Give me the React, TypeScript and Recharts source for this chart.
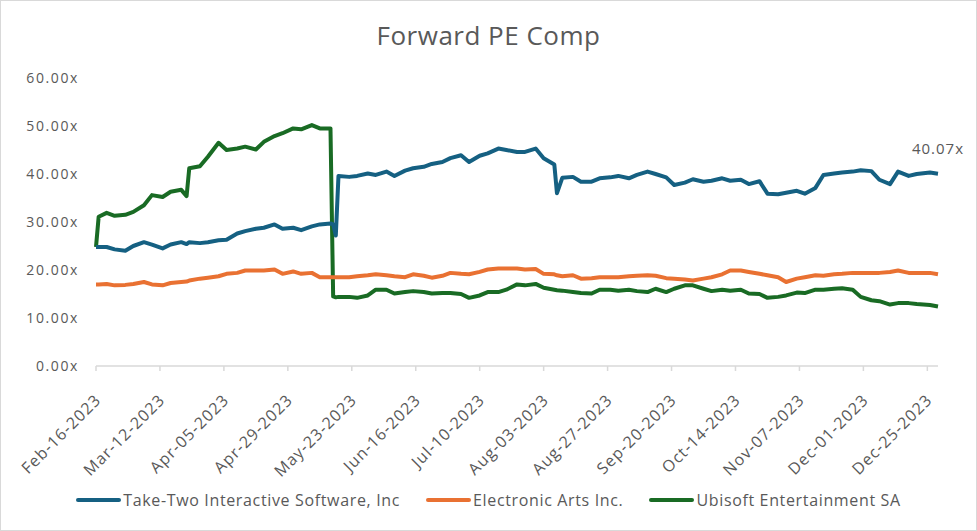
import { Line, LineChart, XAxis, YAxis, LabelList } from "recharts";

const dates = [
  "2023-02-16", "2023-02-17", "2023-02-20", "2023-02-23", "2023-02-27", "2023-03-02", "2023-03-06", "2023-03-09",
  "2023-03-13", "2023-03-16", "2023-03-20", "2023-03-22", "2023-03-23", "2023-03-27", "2023-03-30", "2023-04-03",
  "2023-04-06", "2023-04-10", "2023-04-13", "2023-04-17", "2023-04-20", "2023-04-24", "2023-04-27", "2023-05-01",
  "2023-05-04", "2023-05-08", "2023-05-11", "2023-05-15", "2023-05-16", "2023-05-17", "2023-05-18", "2023-05-22",
  "2023-05-25", "2023-05-29", "2023-06-01", "2023-06-05", "2023-06-08", "2023-06-12", "2023-06-15", "2023-06-19",
  "2023-06-22", "2023-06-26", "2023-06-29", "2023-07-03", "2023-07-06", "2023-07-10", "2023-07-13", "2023-07-17",
  "2023-07-20", "2023-07-24", "2023-07-27", "2023-07-31", "2023-08-03", "2023-08-07", "2023-08-08", "2023-08-10",
  "2023-08-14", "2023-08-17", "2023-08-21", "2023-08-24", "2023-08-28", "2023-08-31", "2023-09-04", "2023-09-07",
  "2023-09-11", "2023-09-14", "2023-09-18", "2023-09-21", "2023-09-25", "2023-09-28", "2023-10-02", "2023-10-05",
  "2023-10-09", "2023-10-12", "2023-10-16", "2023-10-19", "2023-10-23", "2023-10-26", "2023-10-30", "2023-11-02",
  "2023-11-06", "2023-11-09", "2023-11-13", "2023-11-16", "2023-11-20", "2023-11-23", "2023-11-27", "2023-11-30",
  "2023-12-04", "2023-12-07", "2023-12-11", "2023-12-14", "2023-12-18", "2023-12-21", "2023-12-26", "2023-12-29",
];

const takeTwo = [
  24.8, 24.8, 24.8, 24.3, 24.0, 25.0, 25.8, 25.3,
  24.5, 25.3, 25.8, 25.4, 25.8, 25.6, 25.8, 26.2,
  26.3, 27.6, 28.1, 28.6, 28.8, 29.5, 28.6, 28.8,
  28.3, 29.1, 29.5, 29.7, 29.5, 27.2, 39.6, 39.4,
  39.6, 40.1, 39.8, 40.5, 39.6, 40.7, 41.2, 41.5,
  42.1, 42.5, 43.3, 43.9, 42.5, 43.8, 44.3, 45.3,
  45.0, 44.6, 44.6, 45.3, 43.3, 42.0, 36.0, 39.2,
  39.4, 38.4, 38.4, 39.1, 39.3, 39.6, 39.1, 39.8,
  40.5, 40.0, 39.3, 37.7, 38.2, 38.9, 38.4, 38.6,
  39.1, 38.6, 38.8, 37.9, 38.5, 35.9, 35.8, 36.1,
  36.5, 35.9, 37.1, 39.8, 40.1, 40.3, 40.5, 40.8,
  40.6, 38.8, 37.9, 40.5, 39.6, 40.0, 40.3, 40.07,
];

const electronicArts = [
  17.0, 17.0, 17.1, 16.8, 16.9, 17.1, 17.5, 17.0,
  16.8, 17.3, 17.5, 17.6, 17.8, 18.2, 18.4, 18.7,
  19.2, 19.4, 19.9, 19.9, 19.9, 20.1, 19.2, 19.7,
  19.2, 19.4, 18.5, 18.5, 18.5, 18.5, 18.5, 18.5,
  18.7, 18.9, 19.1, 18.9, 18.7, 18.5, 19.1, 18.8,
  18.4, 18.8, 19.4, 19.2, 19.1, 19.6, 20.1, 20.3,
  20.3, 20.3, 20.1, 20.2, 19.2, 19.1, 18.9, 18.7,
  18.9, 18.2, 18.3, 18.5, 18.5, 18.5, 18.7, 18.8,
  18.9, 18.8, 18.3, 18.2, 18.0, 17.8, 18.2, 18.5,
  19.1, 19.9, 19.9, 19.6, 19.2, 18.9, 18.5, 17.5,
  18.2, 18.5, 18.9, 18.8, 19.1, 19.2, 19.4, 19.4,
  19.4, 19.4, 19.6, 19.9, 19.4, 19.4, 19.4, 19.1,
];

const ubisoft = [
  24.8, 31.1, 31.9, 31.3, 31.5, 32.1, 33.5, 35.6,
  35.2, 36.3, 36.7, 35.4, 41.2, 41.6, 43.6, 46.5,
  45.0, 45.3, 45.7, 45.1, 46.7, 47.9, 48.5, 49.5,
  49.3, 50.2, 49.5, 49.5, 14.5, 14.3, 14.4, 14.4,
  14.2, 14.7, 15.9, 15.9, 15.1, 15.4, 15.6, 15.4,
  15.1, 15.2, 15.2, 15.0, 14.2, 14.7, 15.4, 15.4,
  15.9, 17.0, 16.8, 17.1, 16.3, 15.9, 15.8, 15.7,
  15.4, 15.2, 15.1, 15.9, 15.9, 15.7, 15.9, 15.6,
  15.4, 16.1, 15.4, 16.1, 16.8, 16.8, 16.1, 15.6,
  15.9, 15.7, 15.9, 15.1, 15.0, 14.2, 14.4, 14.7,
  15.3, 15.2, 15.9, 15.9, 16.1, 16.2, 15.9, 14.4,
  13.7, 13.5, 12.8, 13.1, 13.1, 12.9, 12.7, 12.4,
];

const xTickDates = [
  "2023-02-16", "2023-03-12", "2023-04-05", "2023-04-29", "2023-05-23", "2023-06-16", "2023-07-10",
  "2023-08-03", "2023-08-27", "2023-09-20", "2023-10-14", "2023-11-07", "2023-12-01", "2023-12-25",
];
const yTicks = [0, 10, 20, 30, 40, 50, 60];

const seriesNames = ["Take-Two Interactive Software, Inc", "Electronic Arts Inc.", "Ubisoft Entertainment SA"];
const colors = ["#156082", "#E97132", "#196B24"];

const ts = (s: string) => {
  const [y, m, d] = s.split("-").map(Number);
  return Date.UTC(y, m - 1, d);
};

const data = dates.map((d, i) => ({
  t: ts(d),
  tt: takeTwo[i],
  ea: electronicArts[i],
  ubi: ubisoft[i],
}));

const MONTHS = ["Jan", "Feb", "Mar", "Apr", "May", "Jun", "Jul", "Aug", "Sep", "Oct", "Nov", "Dec"];
const fmtDate = (v: number) => {
  const d = new Date(v);
  return `${MONTHS[d.getUTCMonth()]}-${String(d.getUTCDate()).padStart(2, "0")}-${d.getUTCFullYear()}`;
};

const FONT = "'Open Sans', 'Noto Sans', sans-serif";
const TEXT = "#595959";

function DateTick({ x, y, payload }: any) {
  const ax = x + 6;
  const ay = y + 30;
  return (
    <text
      x={ax}
      y={ay}
      textAnchor="end"
      fill={TEXT}
      fontSize={16}
      letterSpacing={1.1}
      fontFamily={FONT}
      transform={`rotate(-45 ${ax} ${ay})`}
    >
      {fmtDate(payload.value)}
    </text>
  );
}

function LastLabel({ x, y, index, value }: any) {
  if (index !== data.length - 1) return null;
  return (
    <text x={x} y={y - 20} textAnchor="middle" fill={TEXT} fontSize={15} letterSpacing={1} fontFamily={FONT}>
      {Number(value).toFixed(2)}x
    </text>
  );
}

export default function App() {
  return (
    <div
      style={{
        position: "absolute",
        left: 0,
        top: 0,
        width: 977,
        height: 531,
        boxSizing: "border-box",
        border: "1px solid #d9d9d9",
        background: "#fff",
        fontFamily: FONT,
      }}
    >
      <div
        style={{
          position: "absolute",
          top: 16,
          width: "100%",
          textAlign: "center",
          fontSize: 26,
          letterSpacing: 0.5,
          color: TEXT,
        }}
      >
        Forward PE Comp
      </div>
      <LineChart width={975} height={529} data={data} margin={{ top: 77, right: 38, left: 0, bottom: 64 }}>
        <XAxis
          dataKey="t"
          type="number"
          scale="time"
          domain={[ts("2023-02-16"), ts("2023-12-29")]}
          ticks={xTickDates.map(ts)}
          tick={<DateTick />}
          tickSize={5}
          tickMargin={0}
          height={100}
          stroke="#d9d9d9"
          strokeWidth={1.5}
          interval={0}
        />
        <YAxis
          domain={[0, 60]}
          ticks={yTicks}
          width={95}
          axisLine={false}
          tickLine={false}
          tickSize={0}
          tickMargin={17}
          tickFormatter={(v: number) => `${v.toFixed(2)}x`}
          tick={{ fill: TEXT, fontSize: 14, fontFamily: FONT, letterSpacing: 1.6 }}
        />
        <Line dataKey="ubi" stroke={colors[2]} strokeWidth={4} dot={false} isAnimationActive={false} strokeLinejoin="round" />
        <Line dataKey="ea" stroke={colors[1]} strokeWidth={4} dot={false} isAnimationActive={false} strokeLinejoin="round" />
        <Line dataKey="tt" stroke={colors[0]} strokeWidth={4} dot={false} isAnimationActive={false} strokeLinejoin="round">
          <LabelList dataKey="tt" content={<LastLabel />} />
        </Line>
      </LineChart>
      <div
        style={{
          position: "absolute",
          top: 488,
          width: "100%",
          display: "flex",
          justifyContent: "center",
          gap: 26,
          fontSize: 16,
          letterSpacing: 0.65,
          color: TEXT,
        }}
      >
        {seriesNames.map((n, i) => (
          <div key={n} style={{ display: "flex", alignItems: "center" }}>
            <span style={{ display: "inline-block", width: 45, height: 4, borderRadius: 2, background: colors[i], marginRight: 2 }} />
            <span>{n}</span>
          </div>
        ))}
      </div>
    </div>
  );
}
